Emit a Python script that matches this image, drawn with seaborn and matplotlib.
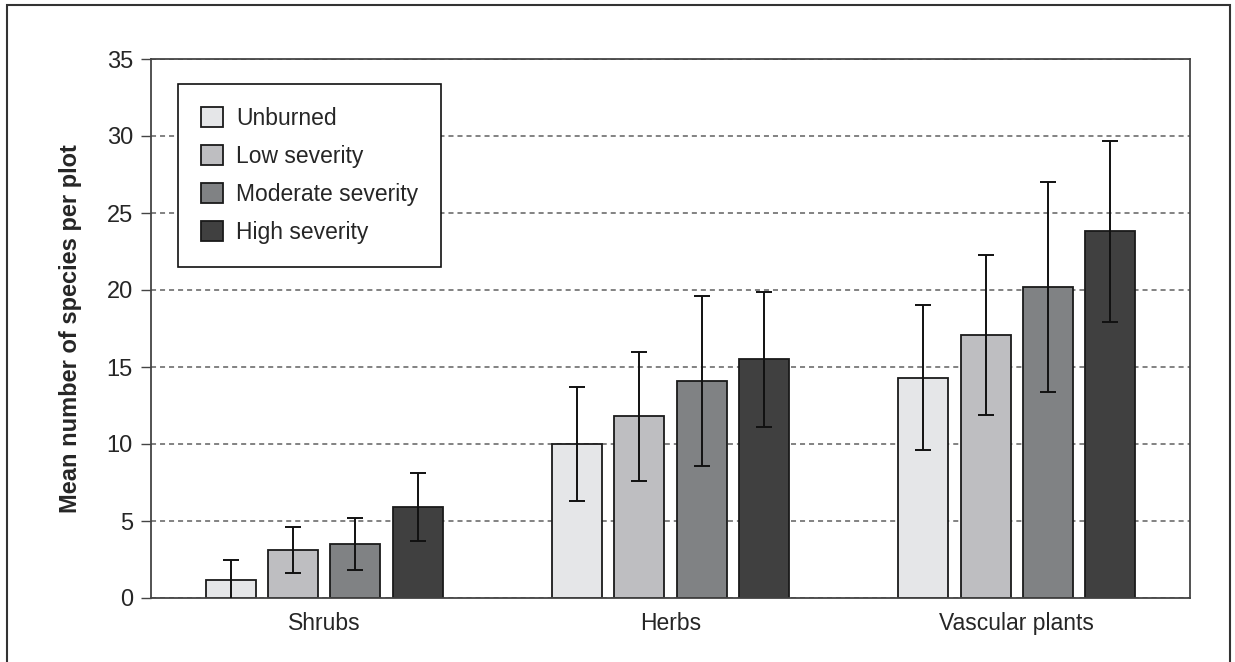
import matplotlib
matplotlib.use("Agg")
import matplotlib.pyplot as plt
from matplotlib.patches import Rectangle
import seaborn as sns
import pandas as pd

# veri
groups = ["Shrubs", "Herbs", "Vascular plants"]
severity = ["Unburned", "Low severity", "Moderate severity", "High severity"]
colors = ["#e5e6e8", "#bdbec1", "#7f8285", "#404040"]

# ortalamalar (her grup için şiddet sırasına göre)
shrubs_mean = [1.2, 3.1, 3.5, 5.9]
herbs_mean = [10.0, 11.8, 14.1, 15.5]
vascular_mean = [14.3, 17.1, 20.2, 23.8]

# hata çubukları (+/-)
shrubs_err = [1.3, 1.5, 1.7, 2.2]
herbs_err = [3.7, 4.2, 5.5, 4.4]
vascular_err = [4.7, 5.2, 6.8, 5.9]

means = [shrubs_mean, herbs_mean, vascular_mean]
errs = [shrubs_err, herbs_err, vascular_err]

rows = []
for g, m, e in zip(groups, means, errs):
    for s, v, d in zip(severity, m, e):
        rows.append({"group": g, "severity": s, "mean": v, "err": d})
df = pd.DataFrame(rows)

sns.set_style("white")
plt.rcParams["font.family"] = ["Liberation Sans", "DejaVu Sans"]

fig = plt.figure(figsize=(12.35, 6.62), dpi=100)
ax = fig.add_axes([151 / 1235, 64 / 662, 1039 / 1235, 539 / 662])

sns.barplot(data=df, x="group", y="mean", hue="severity", order=groups,
            hue_order=severity, palette=colors, width=0.72, gap=0.2,
            edgecolor="#1a1a1a", linewidth=1.3, errorbar=None, ax=ax, zorder=2)

# hata çubukları - çubuk merkezlerinden
bar_conts = list(ax.containers)
for i, cont in enumerate(bar_conts):
    for j, bar in enumerate(cont.patches):
        xc = bar.get_x() + bar.get_width() / 2
        ax.errorbar(xc, bar.get_height(), yerr=errs[j][i], fmt="none",
                    ecolor="#111111", elinewidth=1.4, capsize=5.5,
                    capthick=1.4, zorder=3)

ax.set_xlim(-0.5, 2.5)
ax.set_ylim(0, 35)
ax.set_yticks(range(0, 36, 5))
ax.set_axisbelow(True)
ax.yaxis.grid(True, color="#606060", linestyle=(0, (3.3, 2.6)), linewidth=1.1)
ax.xaxis.grid(False)

ax.set_xlabel("")
ax.set_ylabel("Mean number of species per plot", fontsize=17,
              fontweight="bold", labelpad=18)
ax.tick_params(axis="y", direction="out", length=7, width=1.0,
               color="#444444", labelsize=17, pad=6, left=True)
ax.tick_params(axis="x", length=0, labelsize=16.5, pad=10)

for sp in ax.spines.values():
    sp.set_visible(True)
    sp.set_color("#444444")
    sp.set_linewidth(1.3)

handles, labels = ax.get_legend_handles_labels()
leg = ax.legend(handles[:4], labels[:4], loc="upper left",
                bbox_to_anchor=(27 / 1039, (598 - 84) / 539),
                fontsize=16.5, frameon=True, fancybox=False, framealpha=1,
                edgecolor="#111111", borderpad=1.0, labelspacing=0.65,
                handlelength=0.95, handleheight=0.95, handletextpad=0.6,
                borderaxespad=0)
leg.get_frame().set_linewidth(1.2)

# dış çerçeve
fig.patches.append(Rectangle((7 / 1235, -0.02), 1223 / 1235, (657 / 662) + 0.02,
                             transform=fig.transFigure, fill=False,
                             edgecolor="#333333", linewidth=1.5))

fig.savefig("out.png", dpi=100)
